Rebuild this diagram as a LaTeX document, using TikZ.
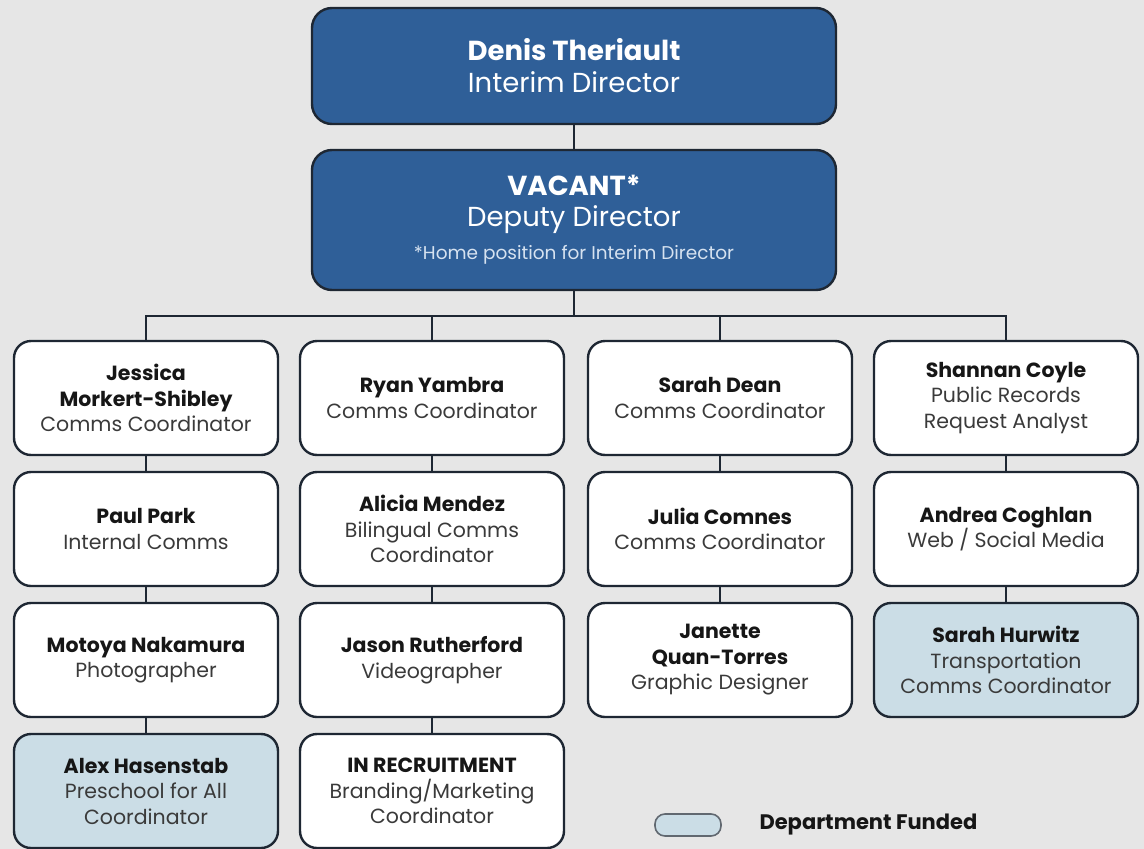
\documentclass[tikz,border=0pt]{standalone}
\usepackage{fontspec}
\setmainfont{Poppins}
\usetikzlibrary{positioning}
\definecolor{bg}{HTML}{E6E6E6}
\definecolor{navy}{HTML}{2F5F98}
\definecolor{edge}{HTML}{1E2733}
\definecolor{lblue}{HTML}{CBDDE6}
\definecolor{nametxt}{HTML}{161616}
\definecolor{roletxt}{HTML}{3A3A3A}
\definecolor{hometxt}{HTML}{D6E2F0}
\tikzset{
  x=1pt, y=-1pt,
  card/.style={draw=edge, line width=2.4pt, rounded corners=17pt, fill=white,
    minimum width=264pt, minimum height=114pt, align=center, inner sep=2pt,
    font=\fontsize{20.5}{25.5}\selectfont, text=roletxt},
  funded/.style={card, fill=lblue},
  topcard/.style={draw=edge, line width=2.4pt, rounded corners=20pt, fill=navy,
    minimum width=524pt, align=center, text=white},
  link/.style={draw=edge, line width=2.4pt},
}
\newcommand{\nm}[1]{{\bfseries\color{nametxt}#1}}
\begin{document}
\begin{tikzpicture}
\fill[bg] (0,0) rectangle (1144,849);
\useasboundingbox (0,0) rectangle (1144,849);

\node[topcard, minimum height=116pt, font=\fontsize{27.5}{32}\selectfont] (dir) at (574,66)
  {\textbf{Denis Theriault}\\Interim Director};
\node[topcard, minimum height=140pt, font=\fontsize{27.5}{31}\selectfont] (dep) at (574,220)
  {\textbf{VACANT*}\\Deputy Director\\[2pt]{\fontsize{18.5}{22}\selectfont\color{hometxt}*Home position for Interim Director}};

% column 1
\node[card] (a1) at (146,398) {\nm{Jessica}\\\nm{Morkert-Shibley}\\Comms Coordinator};
\node[card] (a2) at (146,529) {\nm{Paul Park}\\Internal Comms};
\node[card] (a3) at (146,660) {\nm{Motoya Nakamura}\\Photographer};
\node[funded] (a4) at (146,791) {\nm{Alex Hasenstab}\\Preschool for All\\Coordinator};
% column 2
\node[card] (b1) at (432,398) {\nm{Ryan Yambra}\\Comms Coordinator};
\node[card] (b2) at (432,529) {\nm{Alicia Mendez}\\Bilingual Comms\\Coordinator};
\node[card] (b3) at (432,660) {\nm{Jason Rutherford}\\Videographer};
\node[card] (b4) at (432,791) {\nm{IN RECRUITMENT}\\Branding/Marketing\\Coordinator};
% column 3
\node[card] (c1) at (720,398) {\nm{Sarah Dean}\\Comms Coordinator};
\node[card] (c2) at (720,529) {\nm{Julia Comnes}\\Comms Coordinator};
\node[card] (c3) at (720,660) {\nm{Janette}\\\nm{Quan-Torres}\\Graphic Designer};
% column 4
\node[card] (d1) at (1006,398) {\nm{Shannan Coyle}\\Public Records\\Request Analyst};
\node[card] (d2) at (1006,529) {\nm{Andrea Coghlan}\\Web / Social Media};
\node[funded] (d3) at (1006,660) {\nm{Sarah Hurwitz}\\Transportation\\Comms Coordinator};

% connectors
\coordinate (bus) at (574,316);
\draw[link] (dir.south) -- (dep.north);
\draw[link] (dep.south) -- (bus);
\draw[link] (bus) -| (a1.north);
\draw[link] (bus) -| (b1.north);
\draw[link] (bus) -| (c1.north);
\draw[link] (bus) -| (d1.north);
\draw[link] (a1) -- (a2); \draw[link] (a2) -- (a3); \draw[link] (a3) -- (a4);
\draw[link] (b1) -- (b2); \draw[link] (b2) -- (b3); \draw[link] (b3) -- (b4);
\draw[link] (c1) -- (c2); \draw[link] (c2) -- (c3);
\draw[link] (d1) -- (d2); \draw[link] (d2) -- (d3);

% legend
\node[draw=edge!70, line width=1.6pt, fill=lblue, rounded corners=10pt,
  minimum width=66pt, minimum height=22pt, inner sep=0pt] (leg) at (688,825) {};
\node[anchor=west, font=\fontsize{21}{24}\selectfont\bfseries, text=nametxt] (legt)
  at (756,825) {Department Funded};
\end{tikzpicture}
\end{document}
